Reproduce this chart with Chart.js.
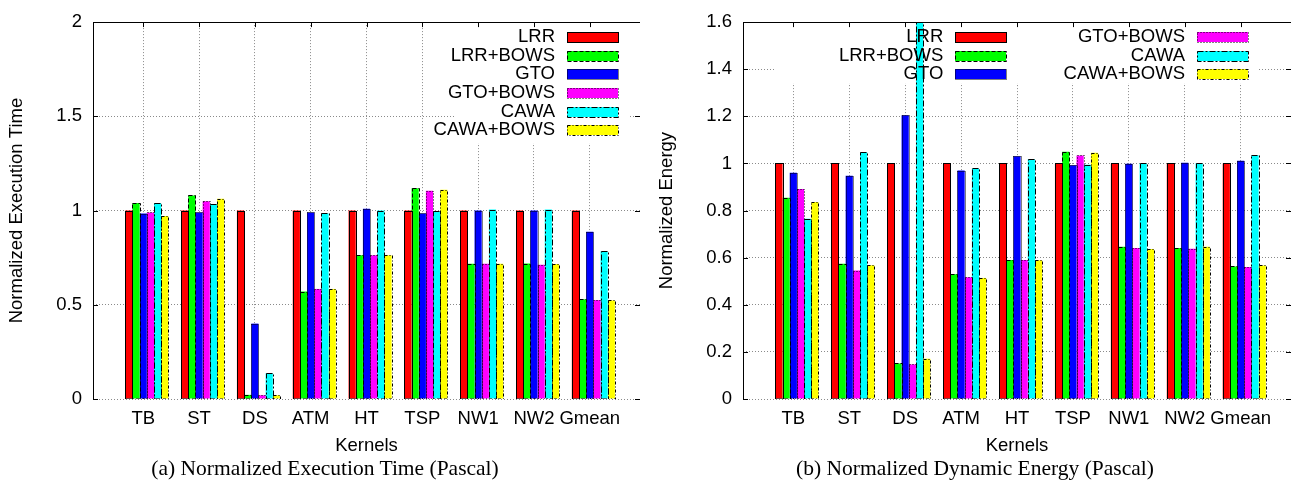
<!DOCTYPE html>
<html>
<head>
<meta charset="utf-8">
<script src="https://cdn.jsdelivr.net/npm/chart.js@4.4.1/dist/chart.umd.min.js"></script>
<style>
  body { margin: 0; background: #fff; }
  #wrap { position: relative; width: 1294px; height: 488px; overflow: hidden; }
  canvas { position: absolute; top: 0; }
  #execChart { left: 0; }
  #energyChart { left: 650px; }
  .caption { position: absolute; top: 456px; width: 650px; text-align: center;
    font: 21.5px "Liberation Serif", "Times New Roman", serif; line-height: 24px; color: #000; }
</style>
</head>
<body>
<div id="wrap">
  <canvas id="execChart" width="650" height="488"></canvas>
  <canvas id="energyChart" width="644" height="488"></canvas>
  <div class="caption" style="left:0">(a) Normalized Execution Time (Pascal)</div>
  <div class="caption" style="left:650px">(b) Normalized Dynamic Energy (Pascal)</div>
</div>
<script>
// Data
const categories = ['TB', 'ST', 'DS', 'ATM', 'HT', 'TSP', 'NW1', 'NW2', 'Gmean'];
const seriesNames = ['LRR', 'LRR+BOWS', 'GTO', 'GTO+BOWS', 'CAWA', 'CAWA+BOWS'];

// (a) normalized execution time
const execLRR      = [1, 1, 1, 1, 1, 1, 1, 1, 1];
const execLRRBows  = [1.04, 1.08, 0.022, 0.57, 0.763, 1.118, 0.718, 0.719, 0.529];
const execGTO      = [0.984, 0.99, 0.40, 0.99, 1.01, 0.985, 1.0, 1.0, 0.888];
const execGTOBows  = [0.99, 1.05, 0.02, 0.584, 0.763, 1.105, 0.718, 0.712, 0.525];
const execCAWA     = [1.04, 1.035, 0.137, 0.985, 1.0, 0.995, 1.005, 1.005, 0.784];
const execCAWABows = [0.971, 1.063, 0.02, 0.584, 0.763, 1.11, 0.718, 0.716, 0.523];
const execTicks = [0, 0.5, 1, 1.5, 2];

// (b) normalized dynamic energy
const energyLRR      = [1, 1, 1, 1, 1, 1, 1, 1, 1];
const energyLRRBows  = [0.854, 0.574, 0.151, 0.53, 0.59, 1.05, 0.646, 0.641, 0.563];
const energyGTO      = [0.96, 0.948, 1.205, 0.97, 1.03, 0.992, 0.999, 1.003, 1.011];
const energyGTOBows  = [0.891, 0.545, 0.147, 0.517, 0.59, 1.034, 0.641, 0.638, 0.56];
const energyCAWA     = [0.765, 1.047, 1.75, 0.979, 1.018, 0.994, 1.0, 1.001, 1.035];
const energyCAWABows = [0.836, 0.568, 0.171, 0.514, 0.589, 1.045, 0.637, 0.646, 0.567];
const energyTicks = [0, 0.2, 0.4, 0.6, 0.8, 1, 1.2, 1.4, 1.6];

// Styles
const FONT = 'Liberation Sans';
const FONT_SIZE = 18.5;
const barColors = ['#ff0000', '#00ff00', '#0000ff', '#ff00ff', '#00ffff', '#ffff00'];
const barDashes = [[], [4, 2], [1, 1], [1, 2], [6, 2, 2, 2], [3, 2, 1, 2]];

Chart.defaults.font.family = FONT;
Chart.defaults.font.size = FONT_SIZE;
Chart.defaults.color = '#000';

function makeDatasets(series) {
  // empty leading set = gnuplot cluster gap, so the tick sits on the 3rd bar
  const sets = [{ label: '', data: [], backgroundColor: 'rgba(0,0,0,0)' }];
  series.forEach((values, i) => {
    sets.push({
      label: seriesNames[i],
      data: values.map((v, j) => ({ x: j, y: v })),
      backgroundColor: barColors[i],
      borderWidth: 0
    });
  });
  return sets;
}

// gnuplot look: frame box, inward ticks, dashed bar outlines, key inside the plot
const gnuFrame = {
  id: 'gnuFrame',
  beforeDatasetsDraw(chart, args, opts) {
    const { ctx, chartArea: a, scales } = chart;
    const k = opts.key;
    ctx.save();
    ctx.fillStyle = '#fff';
    ctx.fillRect(a.right - k.bgLeft, a.top + 1, k.bgLeft - k.bgRight, k.bgHeight);

    ctx.strokeStyle = '#000';
    ctx.lineWidth = 1;
    ctx.beginPath();
    scales.y.ticks.forEach(t => {
      const y = Math.round(scales.y.getPixelForValue(t.value)) + 0.5;
      ctx.moveTo(a.left, y); ctx.lineTo(a.left + 5, y);
      ctx.moveTo(a.right, y); ctx.lineTo(a.right - 5, y);
    });
    scales.x.ticks.forEach(t => {
      const x = Math.round(scales.x.getPixelForValue(t.value)) + 0.5;
      ctx.moveTo(x, a.top); ctx.lineTo(x, a.top + 5);
      ctx.moveTo(x, a.bottom); ctx.lineTo(x, a.bottom - 5);
    });
    ctx.stroke();
    ctx.restore();
  },
  afterDatasetsDraw(chart, args, opts) {
    const { ctx, chartArea: a } = chart;
    const k = opts.key;
    ctx.save();

    // bar outlines
    ctx.beginPath();
    ctx.rect(a.left, a.top, a.right - a.left, a.bottom - a.top);
    ctx.clip();
    ctx.strokeStyle = '#000';
    ctx.lineWidth = 1;
    chart.data.datasets.forEach((ds, di) => {
      if (!ds.label) return;
      ctx.setLineDash(barDashes[di - 1]);
      chart.getDatasetMeta(di).data.forEach(bar => {
        const { x, y, base, width } = bar.getProps(['x', 'y', 'base', 'width'], true);
        const l = Math.round(x - width / 2) + 0.5;
        const r = Math.round(x + width / 2) + 0.5;
        const t = Math.round(y) + 0.5;
        ctx.strokeRect(l, t, r - l, Math.round(base) - t);
      });
    });
    ctx.setLineDash([]);

    // frame
    ctx.strokeRect(Math.round(a.left) + 0.5, Math.round(a.top) + 0.5,
      Math.round(a.right - a.left), Math.round(a.bottom - a.top));
    ctx.restore();

    // key
    ctx.save();
    ctx.font = FONT_SIZE + 'px "' + FONT + '"';
    ctx.textAlign = 'right';
    ctx.textBaseline = 'middle';
    seriesNames.forEach((name, i) => {
      const col = Math.floor(i / k.rows);
      const row = i % k.rows;
      const textEnd = a.right - k.textRight + col * k.colStep;
      const cy = a.top + k.rowTop + row * k.rowStep;
      ctx.fillStyle = '#000';
      ctx.fillText(name, textEnd, cy);
      const bx = Math.round(textEnd + 12);
      const by = Math.round(cy - 5);
      ctx.fillStyle = barColors[i];
      ctx.fillRect(bx, by, 51, 10);
      ctx.setLineDash(barDashes[i]);
      ctx.strokeStyle = '#000';
      ctx.lineWidth = 1;
      ctx.strokeRect(bx + 0.5, by + 0.5, 51, 10);
      ctx.setLineDash([]);
    });
    ctx.restore();
  }
};

function makeChart(id, series, yMax, yTicks, yTitle, padRight, key) {
  return new Chart(document.getElementById(id), {
    type: 'bar',
    data: { datasets: makeDatasets(series) },
    options: {
      responsive: false,
      animation: false,
      layout: { padding: { top: 11, right: padRight, left: 0, bottom: 0 } },
      datasets: { bar: { categoryPercentage: 0.9, barPercentage: 1 } },
      plugins: {
        legend: { display: false },
        tooltip: { enabled: false },
        gnuFrame: { key: key }
      },
      scales: {
        x: {
          type: 'linear',
          min: -0.9,
          max: categories.length - 1 + 0.9,
          offset: false,
          afterBuildTicks: s => { s.ticks = categories.map((c, i) => ({ value: i })); },
          afterFit: s => { s.height = 89; },
          ticks: { callback: v => categories[v], autoSkip: false, maxRotation: 0, padding: 9 },
          grid: { color: '#8a8a8a', drawTicks: false, offset: false },
          border: { display: false, dash: [1, 2] },
          title: { display: true, text: 'Kernels', padding: { top: 0, bottom: 31 } }
        },
        y: {
          min: 0,
          max: yMax,
          afterBuildTicks: s => { s.ticks = yTicks.map(v => ({ value: v })); },
          afterFit: s => { s.width = 93; },
          ticks: { callback: v => String(v), padding: 11 },
          grid: { color: '#8a8a8a', drawTicks: false },
          border: { display: false, dash: [1, 2] },
          title: { display: true, text: yTitle, padding: { top: 6, bottom: 0 } }
        }
      }
    },
    plugins: [gnuFrame]
  });
}

makeChart('execChart',
  [execLRR, execLRRBows, execGTO, execGTOBows, execCAWA, execCAWABows],
  2, execTicks, 'Normalized Execution Time', 10,
  { rows: 6, colStep: 0, textRight: 85, rowTop: 15, rowStep: 18.6, bgLeft: 185, bgRight: 12, bgHeight: 120 });

makeChart('energyChart',
  [energyLRR, energyLRRBows, energyGTO, energyGTOBows, energyCAWA, energyCAWABows],
  1.6, energyTicks, 'Normalized Energy', 3,
  { rows: 3, colStep: 241.7, textRight: 347.7, rowTop: 15, rowStep: 18.6, bgLeft: 516, bgRight: 34, bgHeight: 60 });
</script>
</body>
</html>
